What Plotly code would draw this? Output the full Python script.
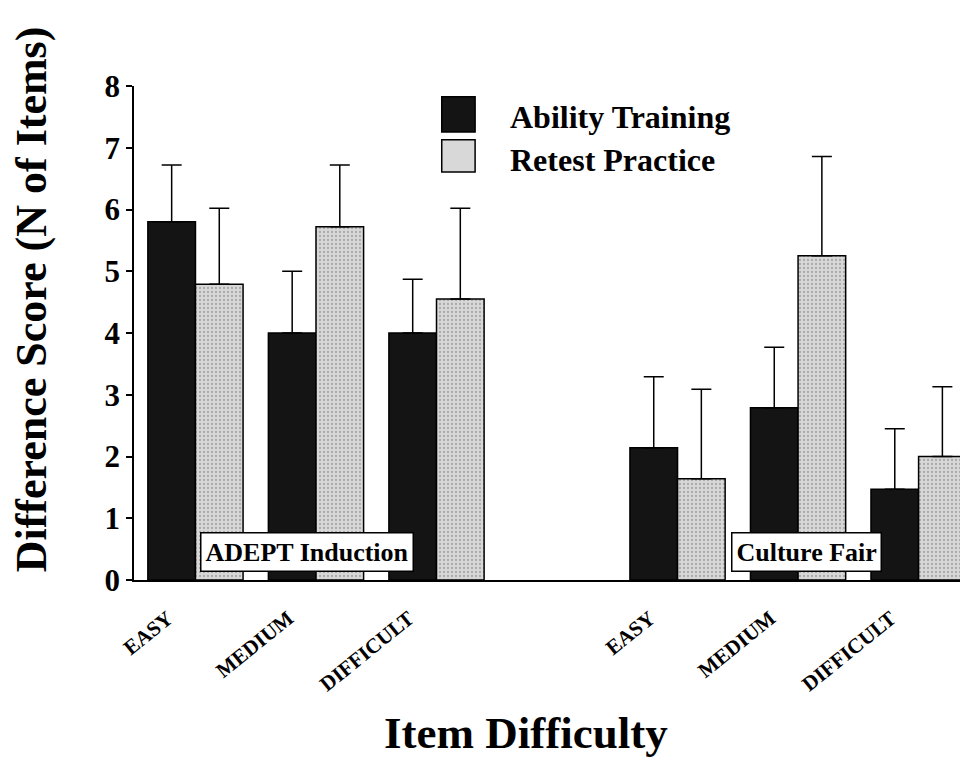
import plotly.graph_objects as go

# ---- data ----
positions = [0, 1, 2, 4, 5, 6]
tick_labels = ["EASY", "MEDIUM", "DIFFICULT", "EASY", "MEDIUM", "DIFFICULT"]
ability_mean = [5.80, 4.00, 4.00, 2.14, 2.79, 1.47]
ability_upper = [6.72, 5.00, 4.87, 3.29, 3.77, 2.45]
retest_mean = [4.79, 5.72, 4.55, 1.64, 5.25, 2.00]
retest_upper = [6.02, 6.72, 6.02, 3.09, 6.86, 3.13]
series_names = ["Ability Training", "Retest Practice"]
panel_labels = ["ADEPT Induction", "Culture Fair"]
panel_label_x = [0.925, 5.07]
panel_label_y = [0.45, 0.46]
y_ticks = [0, 1, 2, 3, 4, 5, 6, 7, 8]

FONT = "Liberation Serif"

ab_err = [u - m for u, m in zip(ability_upper, ability_mean)]
rt_err = [u - m for u, m in zip(retest_upper, retest_mean)]

fig = go.Figure()
fig.add_trace(go.Bar(
    x=positions, y=ability_mean, name=series_names[0],
    marker=dict(color="#141414", line=dict(color="black", width=1.5)),
    error_y=dict(type="data", array=ab_err, arrayminus=[0] * len(ab_err),
                 symmetric=False, color="black", thickness=1.5, width=10),
    showlegend=False,
))
fig.add_trace(go.Bar(
    x=positions, y=retest_mean, name=series_names[1],
    marker=dict(color="#d8d8d8", line=dict(color="black", width=1.5),
                pattern=dict(shape=".", fgcolor="#7a7a7a", size=4, solidity=0.25)),
    error_y=dict(type="data", array=rt_err, arrayminus=[0] * len(rt_err),
                 symmetric=False, color="black", thickness=1.5, width=10),
    showlegend=False,
))

# panel labels
for txt, px, py in zip(panel_labels, panel_label_x, panel_label_y):
    fig.add_annotation(x=px, y=py, xref="x", yref="y", text=f"<b>{txt}</b>",
                       showarrow=False, font=dict(family=FONT, size=26, color="black"),
                       bgcolor="white", bordercolor="black", borderwidth=1.5, borderpad=4,
                       xanchor="center", yanchor="middle")

# custom legend (large swatches)
sw = [(0.978, 0.907, "#141414"), (0.891, 0.826, "#d8d8d8")]
for (y1, y0, col) in sw:
    fig.add_shape(type="rect", xref="paper", yref="paper", x0=0.369, x1=0.409, y0=y0, y1=y1,
                  fillcolor=col, line=dict(color="black", width=1.5))
for name, yc in zip(series_names, [0.938, 0.850]):
    fig.add_annotation(x=0.448, y=yc, xref="paper", yref="paper", text=f"<b>{name}</b>",
                       showarrow=False, xanchor="left", yanchor="middle",
                       font=dict(family=FONT, size=32, color="black"))

# axis titles as annotations
fig.add_annotation(x=-0.123, y=0.569, xref="paper", yref="paper",
                   text="<b>Difference Score (N of Items)</b>", textangle=-90,
                   showarrow=False, xanchor="center", yanchor="middle",
                   font=dict(family=FONT, size=44, color="black"))
fig.add_annotation(x=0.470, y=-0.310, xref="paper", yref="paper",
                   text="<b>Item Difficulty</b>", showarrow=False,
                   xanchor="center", yanchor="middle",
                   font=dict(family=FONT, size=45, color="black"))

fig.update_layout(
    width=960, height=754,
    margin=dict(l=126, r=0, t=78, b=182),
    paper_bgcolor="white", plot_bgcolor="white",
    barmode="group", bargap=0.21, bargroupgap=0,
    font=dict(family=FONT, color="black"),
)
fig.update_xaxes(
    range=[-0.51, 6.41], showgrid=False, zeroline=False,
    showline=True, linecolor="black", linewidth=2,
    tickmode="array", tickvals=[p - 0.23 for p in positions],
    ticktext=[f"<b>{t}</b>" for t in tick_labels],
    tickangle=-39, ticks="outside", ticklen=16, tickcolor="rgba(0,0,0,0)",
    tickfont=dict(family=FONT, size=21, color="black"),
)
fig.update_yaxes(
    range=[0, 8], showgrid=False, zeroline=False,
    showline=True, linecolor="black", linewidth=1.5,
    tickmode="array", tickvals=y_ticks, ticktext=[f"<b>{t}</b>" for t in y_ticks],
    ticks="outside", ticklen=6, tickwidth=1.5, tickcolor="black",
    tickfont=dict(family=FONT, size=31, color="black"),
)

fig.write_html("out.html")
